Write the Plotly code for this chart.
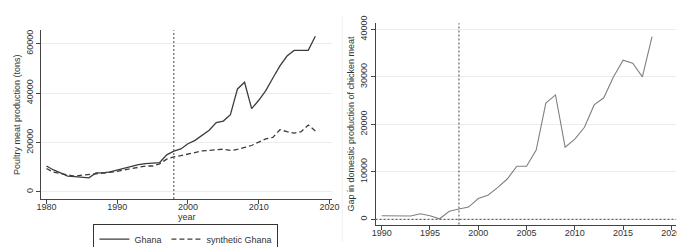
import plotly.graph_objects as go

# ---- data ----
years_left = list(range(1980, 2019))
ghana = [10.5, 8.9, 7.7, 6.4, 6.2, 5.9, 5.7, 7.7, 7.7, 8.1,
         8.9, 9.5, 10.2, 11.1, 11.5, 11.7, 11.9, 15.0, 16.5, 17.4,
         19.5, 20.9, 22.9, 25.0, 28.1, 28.7, 31.3, 41.7, 44.4, 33.7,
         37.1, 41.0, 46.1, 51.0, 55.0, 57.3, 57.3, 57.3, 63.0]
synthetic = [9.5, 8.0, 7.5, 6.9, 6.4, 6.8, 6.9, 7.3, 7.6, 7.9,
             8.3, 8.9, 9.5, 10.2, 10.5, 10.5, 11.4, 13.3, 14.2, 14.7,
             15.3, 16.0, 16.6, 16.8, 17.1, 17.3, 16.8, 17.2, 18.0, 18.8,
             20.2, 21.5, 22.1, 25.2, 24.4, 23.8, 24.4, 27.1, 24.7]
ghana = [v * 1000 for v in ghana]
synthetic = [v * 1000 for v in synthetic]

years_gap = list(range(1990, 2019))
gap = [0.77, 0.70, 0.64, 0.70, 1.2, 0.77, 0.13, 1.7, 2.2, 2.6,
       4.4, 5.1, 6.7, 8.5, 11.2, 11.2, 14.6, 24.5, 26.2, 15.2,
       16.9, 19.4, 24.1, 25.6, 30.0, 33.5, 32.9, 30.0, 38.5]
gap = [v * 1000 for v in gap]

treatment_year = 1998
left_xticks = [1980, 1990, 2000, 2010, 2020]
left_yticks = [0, 20000, 40000, 60000]
right_xticks = [1990, 1995, 2000, 2005, 2010, 2015, 2020]
right_yticks = [0, 10000, 20000, 30000, 40000]

W, H = 685, 247
FONT = "Liberation Sans, Arial, sans-serif"
AXC = "#444444"
GRID = "#ececec"

fig = go.Figure()
fig.add_trace(go.Scatter(x=years_left, y=ghana, mode="lines", name="Ghana",
                         line=dict(color="#3c3c3c", width=1.3), xaxis="x", yaxis="y"))
fig.add_trace(go.Scatter(x=years_left, y=synthetic, mode="lines", name="synthetic Ghana",
                         line=dict(color="#3c3c3c", width=1.3, dash="5px,3px"), xaxis="x", yaxis="y"))
fig.add_trace(go.Scatter(x=years_gap, y=gap, mode="lines", showlegend=False,
                         line=dict(color="#808080", width=1.1), xaxis="x2", yaxis="y2"))

def px_x(p):
    return p / W

def px_y(p):
    return (H - p) / H

common_axis = dict(showline=True, linecolor=AXC, linewidth=1, ticks="outside", ticklen=4,
                   tickcolor=AXC, tickfont=dict(size=9, color="#333", family=FONT), zeroline=False,
                   tickformat="d", ticklabeloverflow="allow")

fig.update_layout(
    width=W, height=H, margin=dict(l=0, r=0, t=0, b=0),
    paper_bgcolor="white", plot_bgcolor="white",
    font=dict(family=FONT, size=9, color="#333"),
    xaxis=dict(domain=[px_x(29), px_x(325)], range=[1979.3, 2020.4], tickvals=left_xticks,
               showgrid=False, anchor="y", ticklabelstandoff=-5, **common_axis),
    yaxis=dict(domain=[px_y(200), px_y(15.7)], range=[-2850, 65400], tickvals=left_yticks,
               tickangle=-90, showgrid=True, gridcolor=GRID, gridwidth=1, anchor="x",
               title=dict(text="Poultry meat production (tons)", standoff=2,
                          font=dict(size=9, family=FONT, color="#333")),
               **common_axis),
    xaxis2=dict(domain=[px_x(369), px_x(675)], range=[1989.36, 2020.5], tickvals=right_xticks,
                showgrid=False, anchor="y2", ticklabelstandoff=-4, **common_axis),
    yaxis2=dict(domain=[px_y(228), px_y(8)], range=[-1100, 41280], tickvals=right_yticks,
                tickangle=-90, showgrid=True, gridcolor=GRID, gridwidth=1, anchor="x2",
                title=dict(text="Gap in domestic production of chicken meat", standoff=2,
                           font=dict(size=9, family=FONT, color="#333")),
                **common_axis),
    legend=dict(orientation="h", x=px_x(176), xanchor="center", y=px_y(227), yanchor="top",
                bordercolor="#333", borderwidth=1, font=dict(size=9, family=FONT, color="#333"),
                itemwidth=30, tracegroupgap=0, bgcolor="white"),
    showlegend=True,
    annotations=[dict(text="year", xref="x domain", yref="paper", x=0.5, y=px_y(219.5),
                      xanchor="center", yanchor="middle", showarrow=False,
                      font=dict(size=9, family=FONT, color="#333"))],
)

dot = dict(color="#666", width=1.2, dash="2px,2px")
shapes = [
    dict(type="line", xref="x", yref="y domain", x0=treatment_year, x1=treatment_year, y0=0, y1=1,
         line=dot),
    dict(type="line", xref="x2", yref="y2 domain", x0=treatment_year, x1=treatment_year, y0=0, y1=1,
         line=dot),
    dict(type="line", xref="x2 domain", yref="y2", x0=0, x1=1, y0=0, y1=0,
         line=dot),
    dict(type="line", xref="paper", yref="paper", x0=px_x(335), x1=px_x(335), y0=0, y1=1,
         line=dict(color="#f0f0f0", width=1)),
]
fig.update_layout(shapes=shapes)

fig.write_html("out.html")
